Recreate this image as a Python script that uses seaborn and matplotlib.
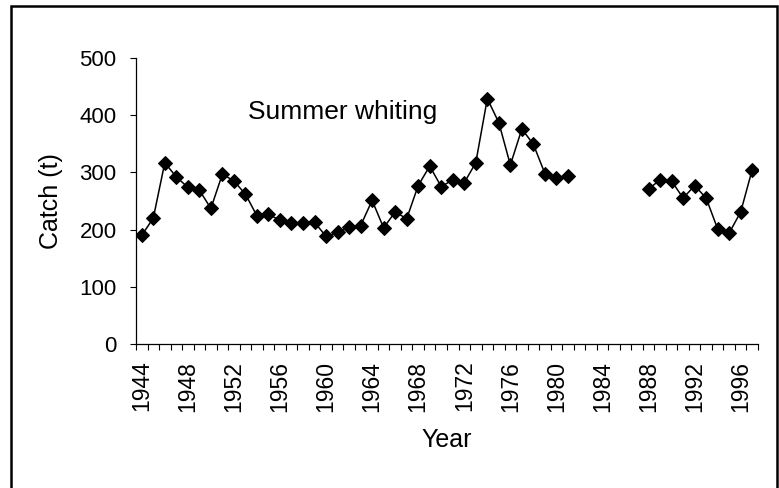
import numpy as np
import pandas as pd
import seaborn as sns
from matplotlib import pyplot as plt
from matplotlib.patches import Rectangle

# Summer whiting catch (t), no data for 1982-1987
years = list(range(1944, 1998))
catch = [190, 220, 317, 292, 274, 269, 237, 297, 285, 262,
         224, 227, 216, 212, 212, 213, 188, 195, 204, 207,
         251, 203, 231, 219, 277, 311, 275, 287, 282, 317,
         429, 387, 313, 376, 349, 298, 291, 294,
         np.nan, np.nan, np.nan, np.nan, np.nan, np.nan,
         271, 287, 285, 255, 277, 255, 201, 194, 231, 305]
year_labels = list(range(1944, 1997, 4))
y_ticks = [0, 100, 200, 300, 400, 500]

df = pd.DataFrame({'year': years, 'catch': catch})
# split into runs so the gap stays open
df['segment'] = df['catch'].isna().cumsum()
df = df.dropna()

sns.set_style('ticks')
plt.rcParams['font.family'] = ['Liberation Sans', 'DejaVu Sans']
plt.rcParams.update({'text.color': 'black', 'axes.labelcolor': 'black',
                     'xtick.color': 'black', 'ytick.color': 'black',
                     'axes.edgecolor': 'black'})

fig = plt.figure(figsize=(7.79, 4.88), dpi=100)
ax = fig.add_axes([136 / 779, 1 - 344 / 488, (758 - 136) / 779, (344 - 58) / 488])

sns.lineplot(data=df, x='year', y='catch', units='segment', estimator=None,
             color='black', linewidth=1.1, marker='D', markersize=7.5,
             markeredgecolor='black', markerfacecolor='black', ax=ax,
             legend=False)

ax.set_xlim(1943.5, 1997.5)
ax.set_ylim(0, 500)
ax.set_yticks(y_ticks)
ax.set_xticks(year_labels)
ax.set_xticklabels([str(y) for y in year_labels], rotation=90, fontsize=16.5)
ax.set_xticks(np.arange(1943.5, 1998, 1), minor=True)
ax.tick_params(axis='x', which='major', length=0, pad=12)
ax.tick_params(axis='x', which='minor', length=4, width=0.8, direction='out')
ax.tick_params(axis='y', length=4, width=0.8, labelsize=16, pad=10)

ax.set_xlabel('Year', fontsize=18, labelpad=12)
ax.set_ylabel('Catch (t)', fontsize=18, labelpad=12)
ax.text(1953.2, 405, 'Summer whiting', fontsize=19, ha='left', va='center')

sns.despine(ax=ax)
for side in ['left', 'bottom']:
    ax.spines[side].set_linewidth(0.9)

# outer chart border
fig.patches.append(Rectangle((11 / 779, -0.05), (777 - 11) / 779, 1.05 - 6 / 488,
                             transform=fig.transFigure, fill=False,
                             edgecolor='black', linewidth=1.8))

plt.savefig('out.png', dpi=100)
plt.close()
